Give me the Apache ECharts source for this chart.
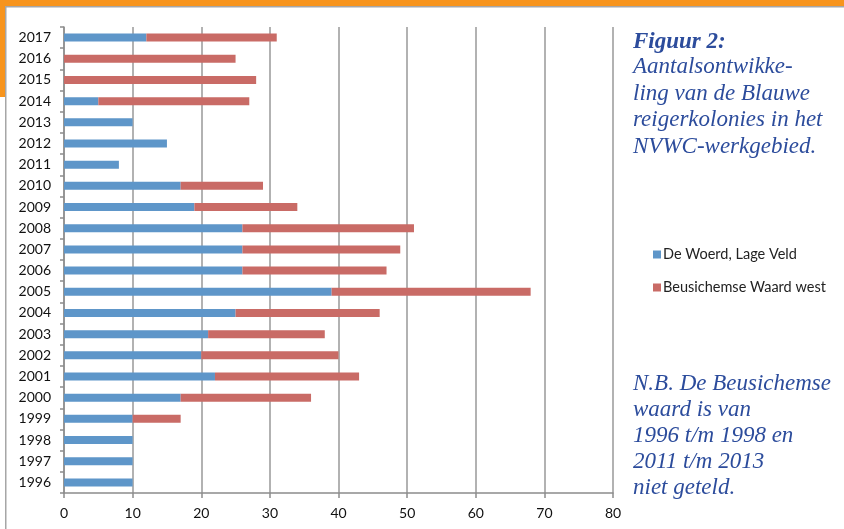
<!DOCTYPE html>
<html>
<head>
<meta charset="utf-8">
<script src="https://cdn.jsdelivr.net/npm/echarts@6/dist/echarts.min.js"></script>
<style>
html,body{margin:0;padding:0;background:#fff;}
#chart{width:844px;height:529px;}
</style>
</head>
<body>
<div id="chart"></div>
<script>
const years = ['1996','1997','1998','1999','2000','2001','2002','2003','2004','2005','2006','2007','2008','2009','2010','2011','2012','2013','2014','2015','2016','2017'];
const deWoerd = [10,10,10,10,17,22,20,21,25,39,26,26,26,19,17,8,15,10,5,0,0,12];
const beusichemse = [0,0,0,7,19,21,20,17,21,29,21,23,25,15,12,0,0,0,22,28,25,19];
const xTicks = [0,10,20,30,40,50,60,70,80];
const seriesNames = ['De Woerd, Lage Veld','Beusichemse Waard west'];
const captionLines = ['Aantalsontwikke-','ling van de Blauwe','reigerkolonies in het','NVWC-werkgebied.'];
const noteLines = ['N.B. De Beusichemse','waard is van','1996 t/m 1998 en','2011 t/m 2013','niet geteld.'];

const chart = echarts.init(document.getElementById('chart'));
const textColor = '#2c4c9c';
const serif = '"Liberation Serif", "DejaVu Serif", serif';
const sans = 'Lato, "Open Sans", sans-serif';
chart.setOption({
  animation: false,
  backgroundColor: '#fff',
  grid: {left: 64, right: 231, top: 27, bottom: 36, containLabel: false},
  legend: {
    orient: 'vertical', left: 648, top: 242, itemWidth: 8, itemHeight: 8, itemGap: 18,
    icon: 'rect',
    textStyle: {fontFamily: sans, fontSize: 14.5, color: '#222', padding: [0,0,0,-3]},
    data: seriesNames
  },
  xAxis: {
    type: 'value', min: 0, max: 80, interval: 10,
    axisLine: {show: true, lineStyle: {color: '#8c8c8c', width: 1.5}},
    axisTick: {show: true, length: 5, lineStyle: {color: '#8c8c8c', width: 1.5}},
    axisLabel: {color: '#111', fontSize: 14, fontFamily: sans, margin: 13,
      formatter: v => xTicks.includes(v) ? String(v) : ''},
    splitLine: {show: true, lineStyle: {color: '#999', width: 1.5}}
  },
  yAxis: {
    type: 'category', data: years,
    axisLine: {show: true, lineStyle: {color: '#8c8c8c', width: 1.5}},
    axisTick: {show: true, length: 4, lineStyle: {color: '#8c8c8c', width: 1.5}},
    axisLabel: {color: '#111', fontSize: 14, fontFamily: sans, margin: 13}
  },
  series: [
    {name: seriesNames[0], type: 'bar', stack: 't', data: deWoerd, barWidth: 8,
     itemStyle: {color: '#5e96c9'}},
    {name: seriesNames[1], type: 'bar', stack: 't', data: beusichemse, barWidth: 8,
     itemStyle: {color: '#c96b66'}}
  ],
  graphic: [
    {type: 'rect', shape: {x: 0, y: 0, width: 844, height: 6}, style: {fill: '#f7941d'}, z: 10},
    {type: 'rect', shape: {x: 0, y: 6, width: 844, height: 1.5}, style: {fill: '#a6a6a6'}, z: 10},
    {type: 'rect', shape: {x: 0, y: 0, width: 5, height: 97}, style: {fill: '#f7941d'}, z: 10},
    {type: 'rect', shape: {x: 5, y: 7, width: 1.5, height: 522}, style: {fill: '#a6a6a6'}, z: 10},
    {type: 'text', left: 633, top: 31, style: {text: 'Figuur 2:', font: 'italic bold 23px ' + serif, fill: textColor}},
    {type: 'text', left: 633, top: 54, style: {text: captionLines.join('\n'), font: 'italic 23px ' + serif, lineHeight: 26.5, fill: textColor}},
    {type: 'text', left: 633, top: 371, style: {text: noteLines.join('\n'), font: 'italic 23px ' + serif, lineHeight: 26, fill: textColor}}
  ]
});
</script>
</body>
</html>
